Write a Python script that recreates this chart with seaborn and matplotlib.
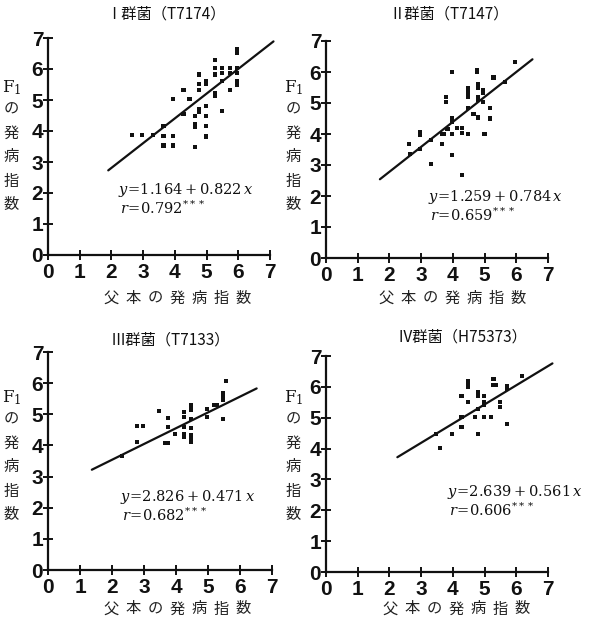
import numpy as np
import pandas as pd
import matplotlib
matplotlib.use("Agg")
import matplotlib.pyplot as plt
import seaborn as sns

# ---------------- data ----------------
titles = ["Ⅰ群菌（T7174）", "Ⅱ群菌（T7147）", "Ⅲ群菌（T7133）", "Ⅳ群菌（H75373）"]

x_I = [2.64, 2.96, 3.32, 3.64, 3.64, 3.64, 3.95, 3.95, 3.95, 4.27, 4.27, 4.46,
       4.64, 4.64, 4.64, 4.64, 4.76, 4.76, 4.76, 4.76, 4.76, 4.98, 4.98, 4.98,
       4.98, 4.98, 4.98, 5.27, 5.27, 5.27, 5.27, 5.27, 5.48, 5.48, 5.48, 5.48,
       5.74, 5.74, 5.74, 5.95, 5.95, 5.95, 5.95, 5.95, 5.95]
y_I = [3.88, 3.88, 3.88, 4.17, 3.85, 3.53, 5.02, 3.85, 3.53, 5.31, 4.54, 5.02,
       4.49, 4.22, 4.13, 3.49, 5.82, 5.52, 5.31, 4.70, 4.60, 5.61, 5.52, 4.81,
       4.49, 4.17, 3.82, 6.30, 6.04, 5.82, 5.23, 5.12, 6.04, 5.87, 5.61, 4.65,
       6.04, 5.87, 5.31, 6.63, 6.52, 6.04, 5.87, 5.61, 5.50]

x_II = [2.63, 2.65, 2.97, 2.97, 2.97, 3.30, 3.30, 3.65, 3.65, 3.72, 3.79, 3.79,
        3.83, 3.96, 3.96, 3.96, 3.96, 3.96, 4.12, 4.28, 4.28, 4.30, 4.49, 4.47,
        4.47, 4.47, 4.47, 4.65, 4.75, 4.75, 4.78, 4.78, 4.78, 4.78, 4.80, 4.96,
        4.96, 4.96, 5.00, 5.17, 5.17, 5.28, 5.65, 5.95]
y_II = [3.67, 3.35, 4.05, 3.97, 3.52, 3.02, 3.80, 3.67, 4.00, 4.00, 5.20, 5.04,
        4.15, 6.01, 4.50, 4.40, 4.00, 3.32, 4.19, 4.19, 4.03, 2.68, 4.00, 5.47,
        5.31, 5.20, 4.83, 4.64, 6.06, 6.01, 5.60, 5.49, 5.20, 5.10, 4.53, 5.42,
        5.31, 5.04, 4.00, 4.83, 4.50, 5.82, 5.69, 6.33]

x_III = [2.30, 2.77, 2.98, 2.77, 3.48, 3.76, 3.76, 3.66, 3.76, 3.97, 4.25, 4.25,
         4.25, 4.25, 4.25, 4.46, 4.46, 4.46, 4.46, 4.46, 4.46, 4.46, 4.46, 4.96,
         4.96, 5.19, 5.27, 5.46, 5.46, 5.46, 5.46, 5.56]
y_III = [3.65, 4.62, 4.62, 4.11, 5.10, 4.88, 4.59, 4.09, 4.09, 4.38, 5.08, 4.91,
         4.59, 4.38, 4.27, 5.29, 5.18, 5.13, 4.86, 4.56, 4.34, 4.19, 4.11, 5.18,
         4.91, 5.31, 5.31, 5.67, 5.53, 5.45, 4.86, 6.06]

x_IV = [3.46, 3.59, 3.98, 4.27, 4.27, 4.27, 4.48, 4.48, 4.48, 4.48, 4.69, 4.79,
        4.79, 4.79, 4.79, 4.98, 4.98, 4.98, 4.98, 5.19, 5.28, 5.28, 5.37, 5.49,
        5.49, 5.70, 5.70, 5.70, 6.19]
y_IV = [4.48, 4.01, 4.48, 5.71, 5.02, 4.70, 6.19, 6.08, 6.00, 5.51, 5.02, 5.84,
        5.71, 5.29, 4.48, 5.71, 5.51, 5.43, 5.02, 5.02, 6.25, 6.06, 6.06, 5.51,
        5.35, 6.04, 5.93, 4.80, 6.36]

# regression lines as drawn (end points)
fit_x = [[1.90, 7.11], [1.70, 6.51], [1.37, 6.52], [2.25, 7.14]]
fit_y = [[2.73, 6.89], [2.54, 6.41], [3.22, 5.83], [3.72, 6.76]]

intercepts = ["1.164", "1.259", "2.826", "2.639"]
slopes = ["0.822", "0.784", "0.471", "0.561"]
r_values = ["0.792", "0.659", "0.682", "0.606"]

xs = [x_I, x_II, x_III, x_IV]
ys = [y_I, y_II, y_III, y_IV]

ticks = [0, 1, 2, 3, 4, 5, 6, 7]
xlabel_chars = list("父本の発病指数")
ylabel_chars = list("の発病指数")

# ---------------- style ----------------
sns.set_style("ticks")
plt.rcParams["font.family"] = ["Noto Sans CJK JP", "DejaVu Sans"]
plt.rcParams["mathtext.fontset"] = "dejavuserif"

W, H = 597, 623
fig = plt.figure(figsize=(W / 100, H / 100), dpi=100)
fig.patch.set_facecolor("white")

# axes boxes in pixels: left, right, top(y=7), bottom(y=0)
boxes = [(48, 270, 38, 255), (326, 548, 41, 258),
         (48, 272, 352, 570), (326, 548, 356, 572)]

def fx(px):
    return px / W

def fy(py):
    return 1 - py / H

tick_font = dict(family=["Liberation Sans Narrow", "Liberation Sans", "DejaVu Sans"],
                 weight="bold", size=15)

title_pos = [(166, 14), (449, 14), (170, 340), (462, 337)]
eq_pos = [(118, 190), (428, 197), (120, 497), (447, 492)]
ylab_x = [11, 293, 11, 293]
xlab_center = [(177, 298), (452, 298), (177, 609), (456, 609)]

for i, (l, r, t, b) in enumerate(boxes):
    ax = fig.add_axes([fx(l), fy(b), (r - l) / W, (b - t) / H])
    ax.set_facecolor("white")
    df = pd.DataFrame({"x": xs[i], "y": ys[i]})
    sns.scatterplot(data=df, x="x", y="y", ax=ax, marker="s", s=9,
                    color="#111111", edgecolor="none", linewidth=0, clip_on=False)
    line_df = pd.DataFrame({"x": fit_x[i], "y": fit_y[i]})
    sns.lineplot(data=line_df, x="x", y="y", ax=ax, color="#111111",
                 linewidth=1.6, clip_on=False)
    ax.set_xlim(0, 7)
    ax.set_ylim(0, 7)
    ax.set_xticks(ticks)
    ax.set_yticks(ticks)
    ax.set_xticklabels([str(v) for v in ticks], fontdict=tick_font)
    ax.set_yticklabels([str(v) for v in ticks], fontdict=tick_font)
    ax.set_xlabel("")
    ax.set_ylabel("")
    for s in ["top", "right"]:
        ax.spines[s].set_visible(False)
    for s in ["left", "bottom"]:
        ax.spines[s].set_linewidth(1.6)
        ax.spines[s].set_color("#111111")
    ax.tick_params(axis="both", direction="inout", length=7, width=1.4,
                   color="#111111", labelcolor="#111111")
    ax.tick_params(axis="x", pad=2)
    ax.tick_params(axis="y", pad=0)

    # title
    tx, ty = title_pos[i]
    fig.text(fx(tx), fy(ty), titles[i], ha="center", va="center", fontsize=11,
             color="#111111")

    # equation texts
    ex, ey = eq_pos[i]
    fig.text(fx(ex), fy(ey), r"$y\!=\!%s+%s\,x$" % (intercepts[i], slopes[i]),
             ha="left", va="center", fontsize=10.5, color="#111111")
    fig.text(fx(ex + 2), fy(ey + 18), r"$r\!=\!%s^{***}$" % r_values[i],
             ha="left", va="center", fontsize=10.5, color="#111111")

    # y label: F1 then vertical characters
    yx = ylab_x[i]
    base = 88 if i < 2 else 398
    fig.text(fx(yx + 1), fy(base), r"$\mathrm{F}_{1}$", ha="center", va="center",
             fontsize=12, color="#111111")
    for k, ch in enumerate(ylabel_chars):
        fig.text(fx(yx), fy(base + 21 + k * 24), ch, ha="center", va="center",
                 fontsize=11, color="#222222")

    # x label: spaced characters
    cx, cy = xlab_center[i]
    n = len(xlabel_chars)
    for k, ch in enumerate(xlabel_chars):
        fig.text(fx(cx + (k - (n - 1) / 2) * 22), fy(cy), ch, ha="center",
                 va="center", fontsize=11, color="#222222")

fig.savefig("out.png", dpi=100, facecolor="white")
